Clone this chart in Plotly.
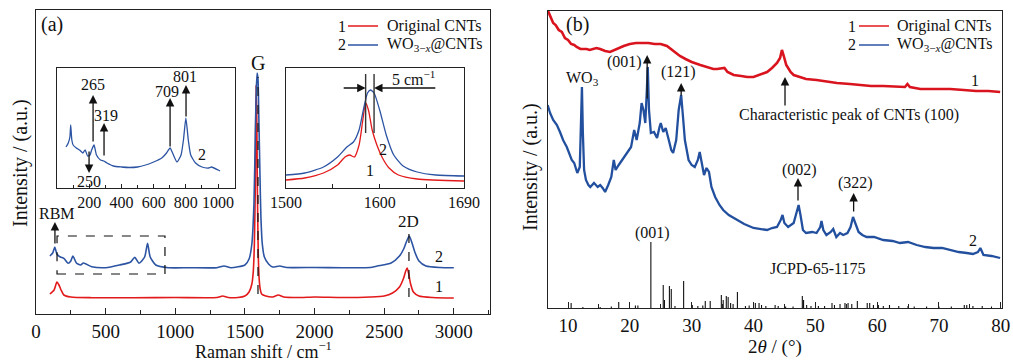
import plotly.graph_objects as go

FONT = "Liberation Serif, 'Times New Roman', Times, 'DejaVu Serif', serif"
RED = "#e31a1c"
BLUE = "#2c54a3"
XRED = "#d9141e"
XBLUE = "#23509e"
INK = "#111111"

# ---------------- Panel (a): Raman main ----------------
raman_red_x = [100, 130, 150, 165, 180, 200, 250, 400, 700, 1000, 1300, 1340, 1380, 1450, 1500, 1530, 1550,
               1560, 1568, 1575, 1580, 1585, 1590, 1596, 1602, 1610, 1620, 1650, 1700, 1740, 1780, 1900,
               2000, 2200, 2400, 2500, 2560, 2610, 2640, 2655, 2665, 2675, 2690, 2710, 2750, 2850, 3000]
raman_red_y = [20, 24, 32, 29, 24, 19, 17, 16.3, 16.3, 16.5, 16.5, 18, 16.5, 16.5, 18, 22, 30,
               42, 70, 130, 229, 200, 120, 60, 36, 25, 20, 18, 17, 19, 17, 16.5,
               17, 16.5, 17, 18, 21, 27, 36, 43, 46, 41, 30, 22, 18, 16.5, 16]

raman_blue_x = [100, 120, 135, 150, 175, 200, 230, 250, 265, 290, 320, 340, 400, 500, 600, 680, 709, 740,
                780, 801, 820, 860, 950, 1100, 1300, 1350, 1400, 1500, 1530, 1550, 1565, 1575, 1582, 1588,
                1594, 1600, 1608, 1615, 1625, 1640, 1670, 1700, 1750, 1800, 2000, 2200, 2400, 2450, 2550,
                2610, 2640, 2660, 2680, 2700, 2720, 2750, 2800, 2900, 3000]
raman_blue_y = [58, 61, 67, 60, 57, 55.7, 50.7, 53, 58, 51, 49, 51, 47.3, 46.3, 49, 52, 56.7, 50.7,
                57, 70.7, 57, 49, 46.3, 46.3, 46.3, 48, 46.3, 49, 55, 70, 110, 181, 225, 241,
                235, 197, 140, 97, 70, 57, 50, 47, 48, 46.5, 46.5, 46.3, 46.5, 48, 51,
                58, 65, 72.3, 78, 71, 62, 53, 48, 46.5, 46.3]

# ---------------- Left inset: 50-1000 cm-1 ----------------
inset_x = [56, 70, 80, 85, 92, 100, 120, 140, 160, 175, 190, 205, 215, 230, 245, 270, 290, 310, 350, 400,
           450, 500, 550, 600, 650, 680, 702, 720, 745, 770, 785, 800, 815, 830, 860, 900, 940, 960, 1000, 1012]
inset_y = [41, 45, 51, 63, 48, 43, 40, 38, 35, 38, 32, 33, 38, 43, 33, 28, 27, 25, 22, 21,
           20.5, 21, 23, 26, 30, 35, 40, 34, 26, 33, 48, 70, 48, 33, 25, 21, 20, 21, 18, 17]

# ---------------- Right inset: G band ----------------
g_red_x = [1500, 1520, 1540, 1555, 1563, 1568, 1573, 1578, 1582, 1585, 1588, 1592, 1597, 1603, 1610, 1620, 1640, 1690]
g_red_y = [8, 10, 15, 23, 31, 33, 31, 43, 68, 85, 78, 58, 43, 30, 20, 13, 9, 7]
g_blue_x = [1500, 1520, 1540, 1555, 1565, 1572, 1578, 1583, 1587, 1590, 1594, 1600, 1607, 1615, 1625, 1640, 1660, 1690]
g_blue_y = [13, 15, 21, 31, 41, 46, 58, 80, 95, 98, 95, 78, 53, 33, 22, 16, 13, 12]

# ---------------- Panel (b): XRD ----------------
xrd_red_x = [6.7, 7.2, 7.6, 8.0, 8.5, 9.0, 9.5, 10.0, 10.5, 11.0, 11.4, 12.0, 12.5, 13.0, 13.5, 14.0, 14.6,
             15.2, 16.0, 16.8, 17.5, 18.2, 19.0, 20.0, 21.0, 22.0, 23.0, 24.0, 25.0, 26.0, 26.8, 27.5, 28.1,
             29.0, 30.0, 31.4, 32.5, 33.5, 34.1, 35.3, 35.8, 36.8, 38.0, 39.0, 40.0, 41.0, 42.2, 43.0, 43.8,
             44.3, 44.6, 44.9, 45.3, 46.0, 46.5, 47.5, 48.5, 50.2, 52.0, 53.5, 55.6, 57.5, 59.0, 61.0, 63.0,
             64.5, 64.9, 65.3, 67.0, 69.0, 71.8, 74.0, 76.0, 78.0, 79.9]
xrd_red_y = [298, 290, 285, 283, 278, 276, 270, 268, 264, 263, 261, 259, 259, 259, 258, 259, 260,
             259, 257, 256, 258, 260, 262, 264, 265, 265, 265, 264, 264, 262, 258, 255, 252,
             249, 246, 243, 241, 239, 239, 240, 236, 233, 232, 231, 231, 233, 236, 240, 245,
             250, 258, 252, 243, 236, 233, 231, 229, 228, 226, 225, 224, 223, 222, 222, 221,
             221, 224, 221, 219, 219, 219, 218, 217, 217, 216]

xrd_blue_x = [6.7, 7.1, 7.6, 8.2, 8.7, 9.2, 9.8, 10.6, 11.0, 11.5, 11.9, 12.1, 12.25, 12.4, 12.6, 12.9, 13.3,
              13.6, 14.2, 14.8, 15.2, 15.6, 16.0, 16.5, 17.0, 17.4, 17.7, 18.2, 19.0, 19.5, 20.2, 20.7, 21.1,
              21.6, 21.9, 22.2, 22.5, 22.75, 22.9, 23.1, 23.4, 23.9, 24.4, 24.8, 25.0, 25.4, 25.8, 26.3,
              26.7, 27.0, 27.5, 27.9, 28.3, 28.6, 28.9, 29.5, 30.0, 30.5, 31.0, 31.3, 31.6, 32.0, 32.4,
              32.8, 33.2, 33.8, 34.5, 35.1, 36.0, 37.3, 38.5, 40.0, 41.0, 42.2, 43.0, 43.8, 44.4, 44.7,
              45.0, 45.6, 46.5, 47.0, 47.3, 47.6, 48.0, 48.5, 49.5, 50.2, 50.8, 51.0, 51.3, 51.8, 52.5,
              52.9, 53.4, 54.0, 54.5, 55.2, 55.7, 56.1, 56.5, 57.0, 57.6, 58.3, 59.5, 61.0, 62.5, 63.7,
              65.0, 66.4, 67.8, 69.1, 70.5, 71.8, 73.2, 74.5, 75.5, 76.3, 76.7, 77.2, 78.5, 79.9]
xrd_blue_y = [203, 195, 188, 183, 176, 168, 161, 148, 145, 135, 141, 175, 221, 175, 138, 128, 123,
              121, 125, 121, 123, 120, 116, 123, 131, 148, 138, 143, 150, 155, 161, 178, 168,
              185, 205, 198, 185, 218, 241, 198, 175, 176, 170, 181, 185, 176, 180, 168,
              158, 155, 168, 198, 213, 191, 168, 148, 143, 141, 148, 156, 145, 133, 140,
              136, 121, 111, 103, 98, 93, 88, 84, 80, 79, 78, 80, 81, 88, 93,
              85, 81, 85, 95, 103, 93, 78, 75, 76, 75, 81, 87, 78, 73, 76,
              79, 71, 75, 73, 75, 81, 91, 85, 76, 73, 71, 71, 68, 67, 65,
              66, 63, 61, 60, 60, 58, 56, 55, 54, 56, 60, 53, 52, 50]

# JCPD-65-1175 reference sticks
ref_pos = [10.5, 12.4, 15.2, 17.0, 18.2, 20.9, 21.3, 23.4, 25.4, 25.6, 26.4, 26.7, 27.3, 28.7, 30.1, 31.0,
           31.8, 32.2, 33.0, 34.8, 35.1, 35.6, 35.9, 36.3, 36.7, 37.4, 38.7, 39.3, 40.3, 40.9, 41.3, 42.0,
           43.5, 44.0, 45.2, 46.4, 47.9, 48.1, 48.6, 49.3, 50.5, 51.5, 52.7, 53.1, 54.0, 54.8, 55.3, 55.9,
           56.8, 58.4, 58.8, 59.4, 60.2, 61.0, 62.0, 63.5, 65.0, 66.0, 68.0, 70.0, 72.0, 74.1, 74.5, 75.5,
           77.0, 78.5]
ref_int = [5, 1, 1, 1.5, 6, 2.5, 2.5, 66, 23, 8, 22, 19, 2, 27, 3, 2,
           2.5, 7, 7, 13, 8, 12, 11, 5, 4, 16, 2, 2.5, 5, 5, 3, 2,
           3, 2, 1.5, 1.5, 12, 8, 3, 2, 2, 2, 5, 3, 4, 5, 5, 4,
           7, 5, 5, 3, 3, 2, 3, 2, 2, 1.5, 1.5, 1.5, 1.5, 3, 3, 2,
           2, 1.5]

stick_x, stick_y = [], []
for p, h in zip(ref_pos, ref_int):
    stick_x += [p, p, None]
    stick_y += [0, h, None]

W, H = 1013, 362


def px(x):
    return x / W


def py(y):
    return 1 - y / H


fig = go.Figure()
fig.add_trace(go.Scatter(x=raman_red_x, y=raman_red_y, mode="lines", line=dict(color=RED, width=1.6, shape="spline", smoothing=0.6),
                         xaxis="x", yaxis="y", showlegend=False))
fig.add_trace(go.Scatter(x=raman_blue_x, y=raman_blue_y, mode="lines", line=dict(color=BLUE, width=1.6, shape="spline", smoothing=0.6),
                         xaxis="x", yaxis="y", showlegend=False))
fig.add_trace(go.Scatter(x=inset_x, y=inset_y, mode="lines", line=dict(color=BLUE, width=1.3, shape="spline", smoothing=0.5),
                         xaxis="x2", yaxis="y2", showlegend=False))
fig.add_trace(go.Scatter(x=g_red_x, y=g_red_y, mode="lines", line=dict(color=RED, width=1.3, shape="spline", smoothing=0.6),
                         xaxis="x3", yaxis="y3", showlegend=False))
fig.add_trace(go.Scatter(x=g_blue_x, y=g_blue_y, mode="lines", line=dict(color=BLUE, width=1.3, shape="spline", smoothing=0.6),
                         xaxis="x3", yaxis="y3", showlegend=False))
fig.add_trace(go.Scatter(x=xrd_red_x, y=xrd_red_y, mode="lines", line=dict(color=XRED, width=2.6),
                         xaxis="x4", yaxis="y4", showlegend=False))
fig.add_trace(go.Scatter(x=xrd_blue_x, y=xrd_blue_y, mode="lines", line=dict(color=XBLUE, width=2.3),
                         xaxis="x4", yaxis="y4", showlegend=False))
fig.add_trace(go.Scatter(x=stick_x, y=stick_y, mode="lines", line=dict(color=INK, width=1.1),
                         xaxis="x4", yaxis="y4", showlegend=False))

frame = dict(showline=True, mirror=True, linecolor="#222222", linewidth=1.2, showgrid=False, zeroline=False)
tickfont = dict(family=FONT, size=19, color=INK)
insetfont = dict(family=FONT, size=16, color=INK)

fig.update_layout(
    width=W, height=H, margin=dict(l=0, r=0, t=0, b=0),
    paper_bgcolor="white", plot_bgcolor="white",
    font=dict(family=FONT, color=INK),
    xaxis=dict(domain=[px(36), px(490)], range=[0, 3260], anchor="y", **frame,
               ticks="inside", ticklen=6, tickwidth=1.2, tickcolor="#222222", tickangle=0,
               tickvals=[0, 500, 1000, 1500, 2000, 2500, 3000], tickfont=tickfont,
               minor=dict(ticks="inside", ticklen=4, tickwidth=1.1, tickcolor="#222222", tick0=250, dtick=500),
               automargin=False),
    yaxis=dict(domain=[py(314), py(10)], range=[0, 304], anchor="x", **frame, showticklabels=False, ticks="",
               automargin=False),
    xaxis2=dict(domain=[px(57), px(235)], range=[0, 1105], anchor="y2", **frame,
                ticks="inside", ticklen=4, tickwidth=1.1, tickcolor="#222222", tickangle=0,
                tickvals=[200, 400, 600, 800, 1000], tickfont=insetfont,
                minor=dict(ticks="inside", ticklen=3, tickcolor="#222222", tick0=100, dtick=200), automargin=False),
    yaxis2=dict(domain=[py(188), py(68)], range=[0, 120], anchor="x2", **frame, showticklabels=False, ticks="", automargin=False),
    xaxis3=dict(domain=[px(286), px(464)], range=[1500, 1690], anchor="y3", **frame,
                ticks="inside", ticklen=4, tickwidth=1.1, tickcolor="#222222", tickangle=0,
                tickvals=[1500, 1550, 1600, 1650, 1690], ticktext=["1500", "", "1600", "", "1690"],
                tickfont=insetfont, automargin=False),
    yaxis3=dict(domain=[py(188), py(68)], range=[0, 120], anchor="x3", **frame, showticklabels=False, ticks="", automargin=False),
    xaxis4=dict(domain=[px(548), px(1002)], range=[6.76, 80.2], anchor="y4", **frame,
                ticks="inside", ticklen=6, tickwidth=1.2, tickcolor="#222222", tickangle=0,
                tickvals=[10, 20, 30, 40, 50, 60, 70, 80], tickfont=tickfont,
                minor=dict(ticks="inside", ticklen=4, tickcolor="#222222", tick0=5, dtick=10),
                automargin=False),
    yaxis4=dict(domain=[py(308), py(11)], range=[0, 297], anchor="x4", **frame, showticklabels=False, ticks="",
                automargin=False),
)

ann = []


def txt(x, y, s, size=16, xref="paper", yref="paper", xanchor="center", angle=0):
    ann.append(dict(x=x, y=y, text=s, xref=xref, yref=yref, showarrow=False, xanchor=xanchor, yanchor="middle",
                    textangle=angle, font=dict(family=FONT, size=size, color=INK)))


def arrow(x, y, ax, ay, xref, yref):
    ann.append(dict(x=x, y=y, ax=ax, ay=ay, xref=xref, yref=yref, axref=xref, ayref=yref, text="",
                    showarrow=True, arrowhead=2, arrowsize=1.3, arrowwidth=1.3, arrowcolor=INK, standoff=0))


shapes = []

# Axis titles
txt(px(263), py(350), "Raman shift / cm<sup>−1</sup>", 18)
txt(px(775), py(347), "2<i>θ</i> / (°)", 19)
txt(px(20), py(163), "Intensity / (a.u.)", 20, angle=-90)
txt(px(530), py(167), "Intensity / (a.u.)", 20, angle=-90)

# Panel labels & legends
txt(px(52), py(25), "(a)", 20)
txt(px(577), py(25), "(b)", 20)
for (lx, lx0, lx1, tx) in [(342, 348, 378, 385), (852, 859, 889, 895)]:
    txt(px(lx), py(26), "1", 16)
    txt(px(lx), py(45), "2", 16)
    txt(px(tx), py(26), "Original CNTs", 16, xanchor="left")
    txt(px(tx), py(45), "WO<sub>3−<i>x</i></sub>@CNTs", 16, xanchor="left")
    shapes.append(dict(type="line", xref="paper", yref="paper", x0=px(lx0), x1=px(lx1), y0=py(26), y1=py(26),
                       line=dict(color=RED, width=1.5)))
    shapes.append(dict(type="line", xref="paper", yref="paper", x0=px(lx0), x1=px(lx1), y0=py(45), y1=py(45),
                       line=dict(color=BLUE, width=1.5)))

# Panel (a) main annotations
txt(151, 101, "RBM", 16, "x", "y")
arrow(136, 92, 136, 69, "x", "y")
txt(1594, 251, "G", 20, "x", "y")
txt(2678, 93, "2D", 17, "x", "y")
txt(2893, 58, "2", 16, "x", "y")
txt(2893, 28, "1", 16, "x", "y")
shapes.append(dict(type="rect", xref="x", yref="y", x0=151, x1=926, y0=40, y1=78,
                   line=dict(color=INK, width=1.2, dash="dash")))
shapes.append(dict(type="line", xref="x", yref="y", x0=1594, x1=1594, y0=20, y1=237,
                   line=dict(color=INK, width=1.2, dash="dash")))
shapes.append(dict(type="line", xref="x", yref="y", x0=2678, x1=2678, y0=17, y1=87,
                   line=dict(color=INK, width=1.2, dash="dash")))

# Left inset annotations
arrow(224, 93, 224, 45, "x2", "y2")
txt(224, 103, "265", 16, "x2", "y2")
arrow(292, 65, 292, 31, "x2", "y2")
txt(304, 72, "319", 16, "x2", "y2")
arrow(199, 15, 199, 38, "x2", "y2")
txt(199, 7, "250", 16, "x2", "y2")
arrow(702, 90, 702, 40, "x2", "y2")
txt(683, 96, "709", 16, "x2", "y2")
arrow(801, 103, 801, 70, "x2", "y2")
txt(795, 111, "801", 16, "x2", "y2")
txt(900, 34, "2", 16, "x2", "y2")

# Right inset annotations
for xv in [1585, 1594]:
    shapes.append(dict(type="line", xref="x3", yref="y3", x0=xv, x1=xv, y0=55, y1=114,
                       line=dict(color="#333333", width=1.4)))
arrow(1585, 100, 1560, 100, "x3", "y3")
arrow(1594, 100, 1661, 100, "x3", "y3")
txt(1636, 110, "5 cm<sup>−1</sup>", 16, "x3", "y3")
txt(1604, 39, "2", 16, "x3", "y3")
txt(1590, 18, "1", 16, "x3", "y3")

# Panel (b) annotations
txt(12.3, 230, "WO<sub>3</sub>", 16, "x4", "y4")
arrow(22.8, 253, 22.8, 208, "x4", "y4")
txt(19.1, 246, "(001)", 16, "x4", "y4")
arrow(28.3, 225, 28.3, 211, "x4", "y4")
txt(27.9, 236, "(121)", 16, "x4", "y4")
arrow(45.1, 231, 45.1, 201, "x4", "y4")
txt(55.5, 193, "Characteristic peak of CNTs (100)", 16, "x4", "y4")
arrow(47.2, 130, 47.2, 106, "x4", "y4")
txt(47.4, 138, "(002)", 16, "x4", "y4")
arrow(56.2, 115, 56.2, 95, "x4", "y4")
txt(56.5, 125, "(322)", 16, "x4", "y4")
txt(75.9, 228, "1", 16, "x4", "y4")
txt(75.5, 68, "2", 16, "x4", "y4")
txt(23.6, 75, "(001)", 16, "x4", "y4")
txt(50.4, 40, "JCPD-65-1175", 16, "x4", "y4")

fig.update_layout(annotations=ann, shapes=shapes)
fig.write_html("out.html", config={"displayModeBar": False},
               post_script="document.body.style.margin='0';document.body.style.overflow='hidden';")
